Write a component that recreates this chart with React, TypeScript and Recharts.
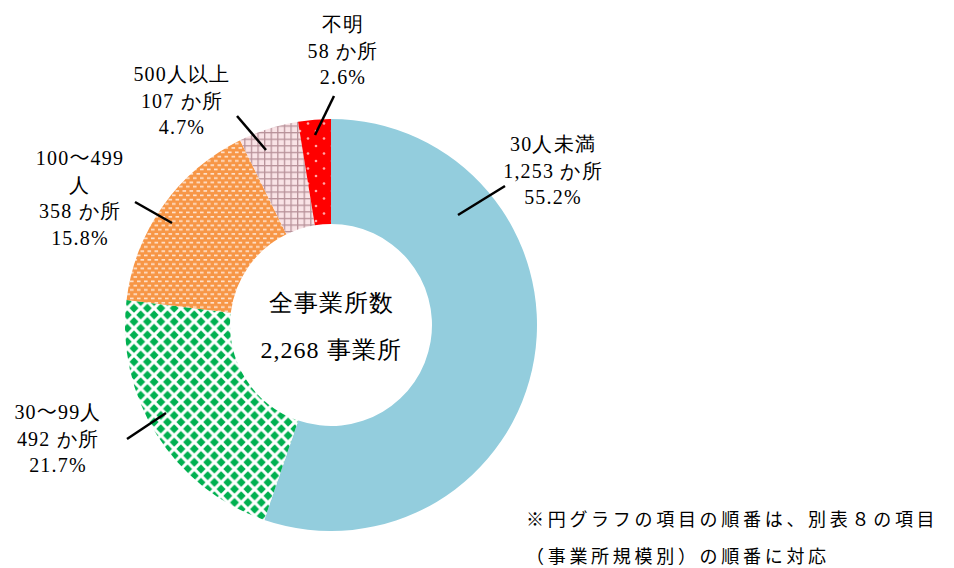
import React from 'react';
import { PieChart, Pie, Cell } from 'recharts';

const categories = ['30人未満', '30～99人', '100～499人', '500人以上', '不明'];
const counts = [1253, 492, 358, 107, 58];
const labelNames = [['30人未満'], ['30～99人'], ['100～499', '人'], ['500人以上'], ['不明']];
const fills = ['#93CDDD', 'url(#pGreen)', 'url(#pOrange)', 'url(#pPink)', 'url(#pRed)'];

const total = counts.reduce((a, b) => a + b, 0);
const data = categories.map((name, i) => ({ name, value: counts[i] }));

const CX = 331;
const CY = 325;

// leader line (x1,y1 -> x2,y2) and text centre x / first baseline, relative to the pie centre
const labelPos = [
  { x1: 127, y1: -110, x2: 174, y2: -139, tx: 222, ty: -174 },
  { x1: -165, y1: 88, x2: -204, y2: 114, tx: -273, ty: 94 },
  { x1: -159, y1: -102, x2: -196, y2: -123, tx: -251, ty: -160 },
  { x1: -65, y1: -175, x2: -94, y2: -209, tx: -149, ty: -244 },
  { x1: -16, y1: -190, x2: 3, y2: -229, tx: 12, ty: -294 },
];

const font = '"Liberation Serif"';
const cjk = '"Noto Sans CJK JP"';

// full-width tilde should come from the CJK font, like the original
const mixed = (t: string) =>
  t.split(/(～)/).filter(Boolean).map((s, k) =>
    s === '～' ? <tspan key={k} fontFamily={cjk}>{s}</tspan> : <tspan key={k}>{s}</tspan>
  );

const renderLabel = (props: any) => {
  const { index } = props;
  const p = labelPos[index];
  const lines = [
    ...labelNames[index],
    `${counts[index].toLocaleString('en-US')} か所`,
    `${((counts[index] / total) * 100).toFixed(1)}%`,
  ];
  return (
    <g key={`lbl-${index}`}>
      <line x1={CX + p.x1} y1={CY + p.y1} x2={CX + p.x2} y2={CY + p.y2} stroke="#000" strokeWidth={2.5} />
      {lines.map((t, j) => (
        <text
          key={j}
          x={CX + p.tx}
          y={CY + p.ty + j * 26.5}
          textAnchor="middle"
          fontFamily={font}
          fontSize={20}
          letterSpacing={1.2}
          fill="#000"
        >
          {mixed(t)}
        </text>
      ))}
    </g>
  );
};

export default function App() {
  return (
    <div style={{ position: 'absolute', left: 0, top: 0, width: 954, height: 568, background: '#fff', fontFamily: font }}>
      <svg width={0} height={0} style={{ position: 'absolute' }}>
        <defs>
          <pattern id="pGreen" patternUnits="userSpaceOnUse" width={13.4} height={13.4}>
            <rect width={13.4} height={13.4} fill="#fff" />
            <polygon points="6.7,2.2 11.2,6.7 6.7,11.2 2.2,6.7" fill="#00B050" />
            <polygon points="0,-4.5 4.5,0 0,4.5 -4.5,0" fill="#00B050" />
            <polygon points="13.4,-4.5 17.9,0 13.4,4.5 8.9,0" fill="#00B050" />
            <polygon points="0,8.9 4.5,13.4 0,17.9 -4.5,13.4" fill="#00B050" />
            <polygon points="13.4,8.9 17.9,13.4 13.4,17.9 8.9,13.4" fill="#00B050" />
          </pattern>
          <pattern id="pOrange" patternUnits="userSpaceOnUse" width={7} height={8.6}>
            <rect width={7} height={8.6} fill="#F79646" />
            <rect x={0.5} y={1} width={3.6} height={1.6} fill="#FEE6D4" />
            <rect x={4} y={5.3} width={3.6} height={1.6} fill="#FEE6D4" />
            <rect x={-3} y={5.3} width={3.6} height={1.6} fill="#FEE6D4" />
          </pattern>
          <pattern id="pPink" patternUnits="userSpaceOnUse" width={6.6} height={6.6}>
            <rect width={6.6} height={6.6} fill="#F9E3E6" />
            <rect x={0} y={0} width={1.3} height={6.6} fill="#B8929A" />
            <rect x={0} y={0} width={6.6} height={1.3} fill="#B8929A" />
          </pattern>
          <pattern id="pRed" patternUnits="userSpaceOnUse" width={16} height={15}>
            <rect width={16} height={15} fill="#FF0000" />
            <circle cx={4} cy={3.5} r={1.3} fill="#FFA8A8" />
            <circle cx={12} cy={11} r={1.3} fill="#FFA8A8" />
          </pattern>
        </defs>
      </svg>
      <PieChart width={954} height={568} margin={{ top: 0, right: 0, bottom: 0, left: 0 }}>
        <Pie
          data={data}
          dataKey="value"
          nameKey="name"
          cx={CX}
          cy={CY}
          innerRadius={101}
          outerRadius={206}
          startAngle={90}
          endAngle={-270}
          stroke="none"
          label={renderLabel}
          labelLine={false}
          isAnimationActive={false}
        >
          {data.map((d, i) => (
            <Cell key={d.name} fill={fills[i]} />
          ))}
        </Pie>
      </PieChart>
      <div style={{ position: 'absolute', left: CX - 110, top: 280, width: 220, textAlign: 'center', fontSize: 24, letterSpacing: 1, lineHeight: '47px' }}>
        <div>全事業所数</div>
        <div>2,268 事業所</div>
      </div>
      <div style={{ position: 'absolute', left: 526, top: 500, fontFamily: cjk, fontSize: 18, letterSpacing: 3.7, lineHeight: '37px', whiteSpace: 'nowrap' }}>
        <div>※円グラフの項目の順番は、別表８の項目</div>
        <div>（事業所規模別）の順番に対応</div>
      </div>
    </div>
  );
}
